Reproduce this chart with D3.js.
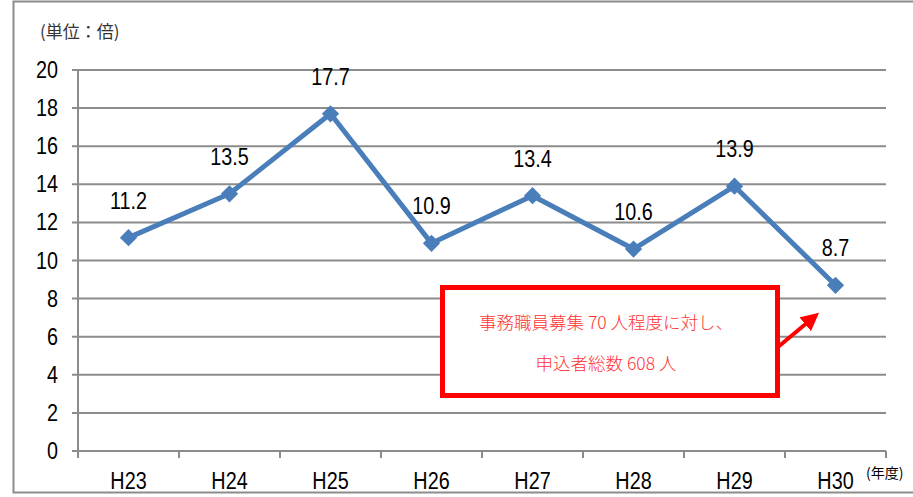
<!DOCTYPE html>
<html>
<head>
<meta charset="utf-8">
<script src="https://cdn.jsdelivr.net/npm/d3@7"></script>
<style>
	body { margin: 0; background: #fff; }
	svg { display: block; }
</style>
</head>
<body>
<svg width="913" height="497"></svg>
<script>
'use strict';

const years = ["H23", "H24", "H25", "H26", "H27", "H28", "H29", "H30"];
const ratios = [11.2, 13.5, 17.7, 10.9, 13.4, 10.6, 13.9, 8.7];
const yTicks = [0, 2, 4, 6, 8, 10, 12, 14, 16, 18, 20];
const noteLines = ["事務職員募集 70 人程度に対し、", "申込者総数 608 人"];

const numFont = "'Liberation Sans', Arial, sans-serif";
const jpFont = "'Noto Sans CJK JP', sans-serif";
const narrow = 0.86; // squeeze to imitate a condensed face

const svg = d3.select("svg");

// outer frame
svg.append("rect")
	.attr("x", 13.5).attr("y", 1.5)
	.attr("width", 910).attr("height", 491)
	.attr("fill", "none")
	.attr("stroke", "#8c8c8c")
	.attr("stroke-width", 2);

const plotL = 78, plotR = 886, plotT = 70, plotB = 451;

const x = d3.scaleBand().domain(years).range([plotL, plotR]);
const y = d3.scaleLinear().domain([0, 20]).range([plotB, plotT]);

function numText(g, px, py, anchor) {
	return g.append("text")
		.attr("transform", `translate(${px},${py}) scale(${narrow},1)`)
		.attr("text-anchor", anchor)
		.attr("font-family", numFont)
		.attr("font-size", 23);
}

// grid lines
svg.append("g")
	.selectAll("line")
	.data(yTicks)
	.enter().append("line")
	.attr("x1", plotL - 6).attr("x2", plotR)
	.attr("y1", d => y(d)).attr("y2", d => y(d))
	.attr("stroke", "#8c8c8c")
	.attr("stroke-width", 2);

// y axis
svg.append("line")
	.attr("x1", plotL).attr("x2", plotL)
	.attr("y1", plotT).attr("y2", plotB)
	.attr("stroke", "#8c8c8c")
	.attr("stroke-width", 2);

const yLab = svg.append("g");
yTicks.forEach(d => numText(yLab, plotL - 20, y(d) + 8, "end").text(d));

// x axis ticks at band edges
const edges = years.map(d => x(d)).concat([plotR]);
svg.append("g")
	.selectAll("line")
	.data(edges)
	.enter().append("line")
	.attr("x1", d => d).attr("x2", d => d)
	.attr("y1", plotB).attr("y2", plotB + 7)
	.attr("stroke", "#8c8c8c")
	.attr("stroke-width", 2);

const xLab = svg.append("g");
years.forEach(d => numText(xLab, x(d) + x.bandwidth() / 2, 489, "middle").text(d));

svg.append("text")
	.attr("x", 866).attr("y", 478)
	.attr("font-family", jpFont)
	.attr("font-size", 14)
	.text("(年度)");

svg.append("text")
	.attr("x", 40).attr("y", 38)
	.attr("font-family", jpFont)
	.attr("font-size", 17)
	.attr("fill", "#333")
	.text("(単位：倍)");

// line
const cx = d => x(d) + x.bandwidth() / 2;
const pts = years.map((d, i) => [cx(d), y(ratios[i])]);

svg.append("path")
	.datum(pts)
	.attr("d", d3.line())
	.attr("fill", "none")
	.attr("stroke", "#4a7ebb")
	.attr("stroke-width", 5)
	.attr("stroke-linejoin", "round");

svg.append("g")
	.selectAll("path")
	.data(pts)
	.enter().append("path")
	.attr("d", d3.symbol(d3.symbolDiamond2, 190)())
	.attr("transform", d => `translate(${d[0]},${d[1]})`)
	.attr("fill", "#4a7ebb");

const valLab = svg.append("g");
ratios.forEach((d, i) => numText(valLab, pts[i][0], pts[i][1] - 29, "middle").text(d.toFixed(1)));

// annotation
svg.append("defs").append("marker")
	.attr("id", "arrow")
	.attr("viewBox", "0 0 10 10")
	.attr("refX", 2).attr("refY", 5)
	.attr("markerWidth", 4.5).attr("markerHeight", 4.5)
	.attr("orient", "auto")
	.append("path")
	.attr("d", "M0,0 L10,5 L0,10 Z")
	.attr("fill", "#ff0000");

svg.append("line")
	.attr("x1", 778).attr("y1", 347)
	.attr("x2", 808).attr("y2", 322)
	.attr("stroke", "#ff0000")
	.attr("stroke-width", 4)
	.attr("marker-end", "url(#arrow)");

svg.append("rect")
	.attr("x", 442.5).attr("y", 287.5)
	.attr("width", 335).attr("height", 108)
	.attr("fill", "#fff")
	.attr("stroke", "#ff0000")
	.attr("stroke-width", 5);

svg.append("g")
	.selectAll("text")
	.data(noteLines)
	.enter().append("text")
	.attr("x", 606)
	.attr("y", (d, i) => 329 + i * 41)
	.attr("text-anchor", "middle")
	.attr("font-family", jpFont)
	.attr("font-size", 17.5)
	.attr("font-weight", 300)
	.attr("fill", "#ff3333")
	.text(d => d);
</script>
</body>
</html>
